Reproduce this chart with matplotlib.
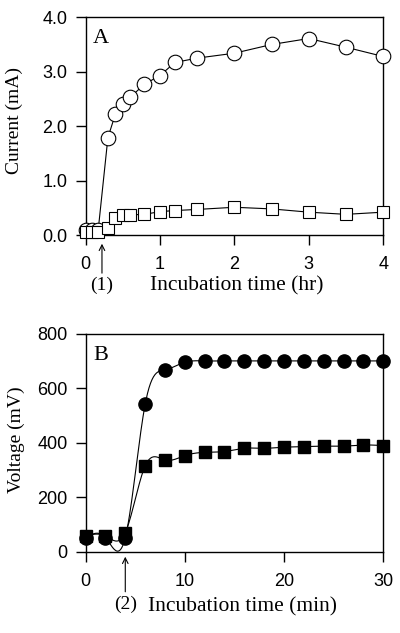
import numpy as np
import matplotlib
matplotlib.use("Agg")
import matplotlib.pyplot as plt

# ---- panel A data (hr, mA)
hr_x = [0, 0.08, 0.17, 0.3, 0.4, 0.5, 0.6, 0.79, 1.0, 1.2, 1.5, 2.0, 2.5, 3.0, 3.5, 4.0]
current_open_circle = [0.1, 0.1, 0.1, 1.79, 2.22, 2.40, 2.53, 2.77, 2.93, 3.17, 3.25, 3.34, 3.50, 3.61, 3.45, 3.28]
current_open_square = [0.05, 0.05, 0.05, 0.13, 0.31, 0.37, 0.37, 0.38, 0.43, 0.45, 0.47, 0.51, 0.48, 0.42, 0.38, 0.42]

# ---- panel B data (min, mV)
min_x = [0, 2, 4, 6, 8, 10, 12, 14, 16, 18, 20, 22, 24, 26, 28, 30]
voltage_circle = [52, 52, 52, 541, 668, 696, 701, 701, 701, 701, 701, 701, 701, 701, 701, 701]
voltage_square = [58, 58, 70, 315, 337, 353, 365, 368, 380, 380, 384, 386, 388, 388, 392, 390]

arrow_A = 0.22
arrow_B = 4.0

serif = ["Liberation Serif", "DejaVu Serif"]
sans = ["Liberation Sans", "DejaVu Sans"]


def natural_spline(x, y, n=400):
    # plain natural cubic spline, only used to draw the smooth connecting line
    x = np.asarray(x, float)
    y = np.asarray(y, float)
    k = len(x)
    h = np.diff(x)
    A = np.zeros((k, k))
    b = np.zeros(k)
    A[0, 0] = A[-1, -1] = 1
    for i in range(1, k - 1):
        A[i, i - 1] = h[i - 1]
        A[i, i] = 2 * (h[i - 1] + h[i])
        A[i, i + 1] = h[i]
        b[i] = 6 * ((y[i + 1] - y[i]) / h[i] - (y[i] - y[i - 1]) / h[i - 1])
    M = np.linalg.solve(A, b)
    xs = np.linspace(x[0], x[-1], n)
    j = np.clip(np.searchsorted(x, xs) - 1, 0, k - 2)
    t1 = x[j + 1] - xs
    t0 = xs - x[j]
    hj = h[j]
    ys = (M[j] * t1 ** 3 / (6 * hj) + M[j + 1] * t0 ** 3 / (6 * hj)
          + (y[j] / hj - M[j] * hj / 6) * t1 + (y[j + 1] / hj - M[j + 1] * hj / 6) * t0)
    return xs, ys


fig = plt.figure(figsize=(4.0, 6.33), dpi=100)
axA = fig.add_axes([0.214, 0.6287, 0.744, 0.344])
axB = fig.add_axes([0.214, 0.1284, 0.744, 0.344])

# panel A: straight segments, squares drawn over circles
axA.plot(hr_x, current_open_circle, color="black", lw=0.8, marker="o", ms=10.5,
         mfc="white", mec="black", mew=0.8, clip_on=False, zorder=3)
axA.plot(hr_x, current_open_square, color="black", lw=0.8, marker="s", ms=8,
         mfc="white", mec="black", mew=0.8, clip_on=False, zorder=4)
axA.set_xlim(0, 4)
axA.set_ylim(0, 4)
axA.set_xticks([0, 1, 2, 3, 4])
axA.set_yticks([0, 1, 2, 3, 4])
axA.set_yticklabels(["0.0", "1.0", "2.0", "3.0", "4.0"])

# panel B: smoothed line
xs, ys = natural_spline(min_x, voltage_circle)
axB.plot(xs, ys, color="black", lw=0.8, zorder=2)
xs, ys = natural_spline(min_x, voltage_square)
axB.plot(xs, ys, color="black", lw=0.8, zorder=2)
axB.plot(min_x, voltage_circle, ls="none", marker="o", ms=9.5, color="black",
         clip_on=False, zorder=3)
axB.plot(min_x, voltage_square, ls="none", marker="s", ms=9, color="black",
         clip_on=False, zorder=4)
axB.set_xlim(0, 30)
axB.set_ylim(0, 800)
axB.set_xticks([0, 10, 20, 30])
axB.set_yticks([0, 200, 400, 600, 800])

for ax in (axA, axB):
    for s in ax.spines.values():
        s.set_linewidth(1.0)
    ax.tick_params(direction="out", length=7, width=1.0)
    ax.tick_params(axis="x", pad=8)
    ax.tick_params(axis="y", pad=6)
    for lab in ax.get_xticklabels() + ax.get_yticklabels():
        lab.set_family(sans)
        lab.set_fontsize(13)

axA.set_xlabel("Incubation time (hr)", family=serif, fontsize=15.5, va="top")
axA.xaxis.set_label_coords(0.508, -0.19)
axA.set_ylabel("Current (mA)", family=serif, fontsize=14)
axA.yaxis.set_label_coords(-0.21, 0.524)

axB.set_xlabel("Incubation time (min)", family=serif, fontsize=15.5, va="top")
axB.xaxis.set_label_coords(0.528, -0.21)
axB.set_ylabel("Voltage (mV)", family=serif, fontsize=14)
axB.yaxis.set_label_coords(-0.203, 0.515)

axA.text(0.025, 0.945, "A", transform=axA.transAxes, family=serif, fontsize=16,
         ha="left", va="top")
axB.text(0.025, 0.945, "B", transform=axB.transAxes, family=serif, fontsize=16,
         ha="left", va="top")

# injection arrows
arrow = dict(arrowstyle="->", lw=0.8, color="black", shrinkA=0, shrinkB=0)
axA.annotate("", xy=(arrow_A, -0.04), xytext=(arrow_A, -0.175),
             xycoords=("data", "axes fraction"), textcoords=("data", "axes fraction"),
             arrowprops=arrow, annotation_clip=False)
axA.text(arrow_A, -0.23, "(1)", transform=axA.get_xaxis_transform(),
         family=serif, fontsize=14, ha="center", va="center")
axB.annotate("", xy=(arrow_B, -0.023), xytext=(arrow_B, -0.184),
             xycoords=("data", "axes fraction"), textcoords=("data", "axes fraction"),
             arrowprops=arrow, annotation_clip=False)
axB.text(arrow_B, -0.243, "(2)", transform=axB.get_xaxis_transform(),
         family=serif, fontsize=14, ha="center", va="center")

fig.savefig("out.png", dpi=100)
